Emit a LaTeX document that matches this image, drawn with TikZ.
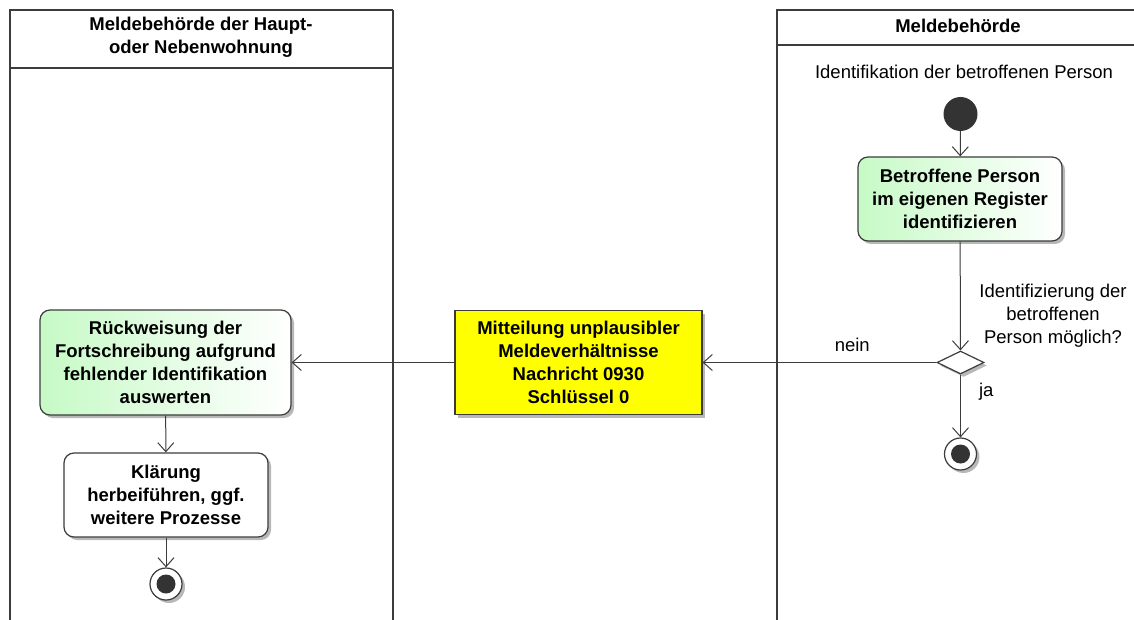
\documentclass[tikz,border=0pt]{standalone}
\usepackage{fontspec}
\setmainfont{Liberation Sans}
\usepackage{xcolor}
\definecolor{umlLine}{RGB}{60, 60, 60}
\definecolor{umlGreen}{RGB}{198, 250, 198}
\definecolor{umlYellow}{RGB}{255, 255, 0}
\definecolor{umlDot}{RGB}{51, 51, 51}
\usepackage{tikz}
\usetikzlibrary{
    shapes.geometric,
    arrows.meta,
    positioning,
    shadows
}

\begin{document}
\begin{tikzpicture}[
    x=1pt, y=-1pt,
    laneLine/.style={
        draw=umlLine, line width=2.3pt
    },
    laneTitle/.style={
        font=\fontsize{18.5}{23}\selectfont\bfseries,
        align=center, inner sep=0pt
    },
    umlShadow/.style={
        drop shadow={shadow xshift=3pt, shadow yshift=-3pt, fill=black!28, opacity=1}
    },
    actionNode/.style={
        rectangle, rounded corners=10pt,
        draw=umlLine, line width=1.2pt,
        left color=umlGreen, right color=white,
        font=\fontsize{18.5}{23}\selectfont\bfseries,
        align=center, inner sep=4pt, umlShadow
    },
    plainAction/.style={
        actionNode, left color=white, right color=white, fill=white
    },
    messageNode/.style={
        rectangle, draw=umlLine, line width=1.2pt,
        fill=umlYellow,
        font=\fontsize{18.5}{23}\selectfont\bfseries,
        align=center, inner sep=4pt, umlShadow
    },
    startNode/.style={
        circle, fill=umlDot, minimum size=34pt, inner sep=0pt
    },
    endNode/.style={
        circle, draw=umlLine, line width=1.2pt, fill=white,
        minimum size=32pt, inner sep=0pt, umlShadow,
        path picture={\fill[umlDot] (path picture bounding box.center) circle (9.5pt);}
    },
    decisionNode/.style={
        diamond, draw=umlLine, line width=1.2pt, fill=white,
        minimum width=47pt, minimum height=23pt, inner sep=0pt, umlShadow
    },
    flowLine/.style={
        -{Straight Barb[length=9pt, width=16pt]}, line width=1pt, draw=umlLine
    },
    condLabel/.style={
        font=\fontsize{18.5}{23}\selectfont, inner sep=1pt, align=center
    }
]
    \useasboundingbox (0,0) rectangle (1134,620);

    % Swimlanes
    \draw[laneLine] (10,620) -- (10,10) -- (393,10);
    \draw[laneLine] (10,68) -- (393,68);
    \draw[laneLine] (393,10) -- (393,620);
    \draw[laneLine] (777,620) -- (777,10) -- (1134,10);
    \draw[laneLine] (777,45) -- (1134,45);

    \node[laneTitle] (titleLeft) at (201,37) {Meldebehörde der Haupt-\\oder Nebenwohnung};
    \node[laneTitle] (titleRight) at (958,26) {Meldebehörde};

    % Nodes
    \node[condLabel] (partition) at (964,72) {Identifikation der betroffenen Person};
    \node[startNode] (start) at (960.5,114) {};

    \node[actionNode, minimum width=204pt, minimum height=84pt] (ident) at (960,199)
        {Betroffene Person\\im eigenen Register\\identifizieren};

    \node[decisionNode] (dec) at (960.5,362.5) {};
    \node[condLabel] (decText) at (1053,316) {Identifizierung der\\betroffenen\\Person möglich?};

    \node[endNode] (endRight) at (960.5,454) {};

    \node[messageNode, minimum width=247pt, minimum height=104pt] (msg) at (578.5,362.5)
        {Mitteilung unplausibler\\Meldeverhältnisse\\Nachricht 0930\\Schlüssel 0};

    \node[actionNode, minimum width=251pt, minimum height=105pt] (rueck) at (165.5,362.5)
        {Rückweisung der\\Fortschreibung aufgrund\\fehlender Identifikation\\auswerten};

    \node[plainAction, minimum width=204pt, minimum height=84pt] (klaer) at (166,495)
        {Klärung\\herbeiführen, ggf.\\weitere Prozesse};

    \node[endNode] (endLeft) at (166,584) {};

    % Connections
    \draw[flowLine] (start) -- (ident);
    \draw[flowLine] (ident) -- (dec);
    \draw[flowLine] (dec) -- node[condLabel, pos=0.36, above=9pt] {nein} (msg);
    \draw[flowLine] (dec) -- node[condLabel, pos=0.27, right=17pt] {ja} (endRight);
    \draw[flowLine] (msg) -- (rueck);
    \draw[flowLine] (rueck) -- (klaer);
    \draw[flowLine] (klaer) -- (endLeft);

\end{tikzpicture}
\end{document}
